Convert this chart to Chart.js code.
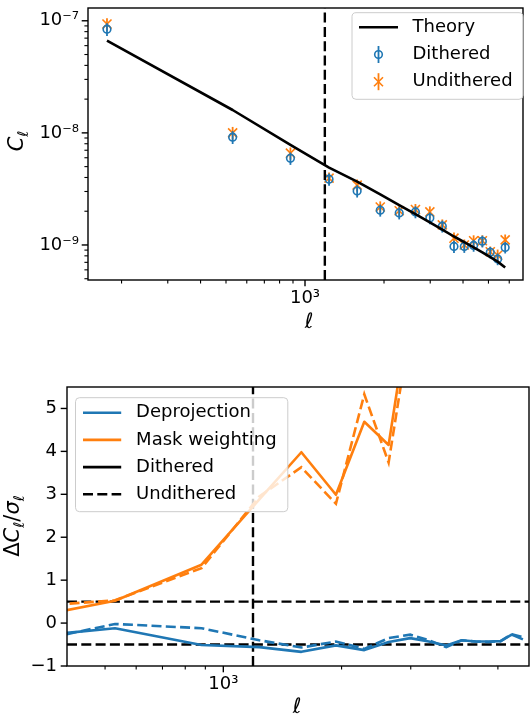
<!DOCTYPE html>
<html>
<head>
<meta charset="utf-8">
<script src="https://cdn.jsdelivr.net/npm/chart.js@4/dist/chart.umd.min.js"></script>
<style>
  html, body { margin: 0; padding: 0; background: #fff; }
  #wrap { position: relative; width: 531px; height: 720px; }
  canvas { position: absolute; left: 0; }
  #clChart { top: 0; }
  #diffChart { top: 340px; }
</style>
</head>
<body>
<div id="wrap">
  <canvas id="clChart" width="531" height="340"></canvas>
  <canvas id="diffChart" width="531" height="380"></canvas>
</div>
<script>
// multipole bin centres
const ells = [176, 530, 880, 1235, 1580, 1935, 2285, 2635, 2990, 3335, 3695, 4045, 4390, 4740, 5080, 5420, 5790];

// power spectra
const clTheory     = [6.64e-8, 1.60e-8, 7.8e-9, 4.9e-9, 3.68e-9, 2.83e-9, 2.27e-9, 1.88e-9, 1.59e-9, 1.37e-9, 1.19e-9, 1.06e-9, 9.5e-10, 8.6e-10, 7.8e-10, 7.1e-10, 6.3e-10];
const clDithered   = [8.41e-8, 9.16e-9, 5.93e-9, 3.86e-9, 3.03e-9, 2.04e-9, 1.93e-9, 1.97e-9, 1.74e-9, 1.47e-9, 9.7e-10, 9.7e-10, 9.9e-10, 1.08e-9, 8.6e-10, 7.5e-10, 9.5e-10];
const errDithered  = [1.1e-8, 1.2e-9, 7.5e-10, 4.8e-10, 3.8e-10, 2.5e-10, 2.4e-10, 2.4e-10, 2.1e-10, 1.8e-10, 1.2e-10, 1.2e-10, 1.2e-10, 1.3e-10, 1.0e-10, 9e-11, 1.1e-10];
const clUndithered = [9.35e-8, 1.0e-8, 6.59e-9, 3.95e-9, 3.42e-9, 2.18e-9, 2.02e-9, 2.07e-9, 1.97e-9, 1.51e-9, 1.15e-9, 1.0e-9, 1.09e-9, 1.09e-9, 8.7e-10, 8.1e-10, 1.11e-9];
const errUndithered = [1.2e-8, 1.3e-9, 8.2e-10, 4.9e-10, 4.2e-10, 2.7e-10, 2.5e-10, 2.5e-10, 2.4e-10, 1.8e-10, 1.4e-10, 1.2e-10, 1.3e-10, 1.3e-10, 1.0e-10, 1.0e-10, 1.3e-10];

// residuals, in units of sigma
const deprojDithered   = [-0.54, -0.12, -0.51, -0.56, -0.67, -0.52, -0.63, -0.44, -0.35, -0.43, -0.52, -0.40, -0.43, -0.43, -0.42, -0.27, -0.38];
const deprojUndithered = [-0.95, -0.02, -0.12, -0.40, -0.57, -0.43, -0.60, -0.35, -0.27, -0.40, -0.56, -0.40, -0.43, -0.44, -0.42, -0.26, -0.33];
const maskDithered     = [-0.33, 0.52, 1.36, 2.88, 3.98, 2.99, 4.69, 4.15, 7.4, 8.9, 11.2, 10.4, 12.8, 14.1, 13.0, 15.6, 14.7];
const maskUndithered   = [0.21, 0.53, 1.28, 2.95, 3.63, 2.78, 5.33, 3.74, 6.9, 8.6, 11.8, 10.1, 13.4, 14.6, 12.7, 16.0, 15.2];

const ellCut = 1190;
const bandLevels = [0.5, -0.5];

// axis ranges and ticks
const clXRange = [149, 6770];
const clYRange = [4.87e-10, 1.30e-7];
const clXTicks = [200, 300, 400, 500, 600, 700, 800, 900, 1000, 2000, 3000, 4000, 5000, 6000];
const clYTicks = [5e-10, 6e-10, 7e-10, 8e-10, 9e-10,
                  1e-9, 2e-9, 3e-9, 4e-9, 5e-9, 6e-9, 7e-9, 8e-9, 9e-9,
                  1e-8, 2e-8, 3e-8, 4e-8, 5e-8, 6e-8, 7e-8, 8e-8, 9e-8, 1e-7];
const diffXRange = [400, 6000];
const diffYRange = [-1, 5.5];
const diffXTicks = [500, 600, 700, 800, 900, 1000, 2000, 3000, 4000, 5000];
const diffYTicks = [-1, 0, 1, 2, 3, 4, 5];

const FONT = "'DejaVu Sans', sans-serif";
const BLUE = '#1f77b4';
const ORANGE = '#ff7f0e';
const DASH = [10, 4.3];
const LW = 2.6;

const pts = (xs, ys) => xs.map((x, i) => ({ x: x, y: ys[i] }));

function isDecade(v) {
  const p = Math.log10(v);
  return Math.abs(p - Math.round(p)) < 1e-9;
}

// 10^n with unicode superscripts
function powLabel(v) {
  const sup = { '-': '⁻', '0': '⁰', '1': '¹', '2': '²', '3': '³', '4': '⁴', '5': '⁵', '6': '⁶', '7': '⁷', '8': '⁸', '9': '⁹' };
  return '10' + String(Math.round(Math.log10(v))).split('').map(c => sup[c]).join('');
}

function tickFont() { return { family: FONT, size: 18 }; }

// vertical error bars, drawn just under each series' markers
const errorBars = {
  id: 'errorBars',
  beforeDatasetDraw(chart, args) {
    const ds = chart.data.datasets[args.index];
    if (!ds.errors) return;
    const { ctx, chartArea: a } = chart;
    const xs = chart.scales.x, ys = chart.scales.y;
    ctx.save();
    ctx.beginPath();
    ctx.rect(a.left, a.top, a.width, a.height);
    ctx.clip();
    ctx.strokeStyle = ds.pointBorderColor;
    ctx.lineWidth = 1.8;
    ds.data.forEach((p, i) => {
      const px = xs.getPixelForValue(p.x);
      ctx.beginPath();
      ctx.moveTo(px, ys.getPixelForValue(p.y - ds.errors[i]));
      ctx.lineTo(px, ys.getPixelForValue(p.y + ds.errors[i]));
      ctx.stroke();
    });
    ctx.restore();
  }
};

// box frame plus outward ticks (short ones for log minor ticks)
const frameTicks = {
  id: 'frameTicks',
  afterDatasetsDraw(chart) {
    const { ctx, chartArea: a } = chart;
    ctx.save();
    ctx.strokeStyle = '#000';
    ctx.lineWidth = 1.4;
    ctx.strokeRect(a.left, a.top, a.width, a.height);
    ['x', 'y'].forEach(id => {
      const s = chart.scales[id];
      s.ticks.forEach(t => {
        const major = s.type !== 'logarithmic' || isDecade(t.value);
        const len = major ? 6.3 : 3.6;
        const p = s.getPixelForValue(t.value);
        ctx.lineWidth = major ? 1.4 : 1.1;
        ctx.beginPath();
        if (id === 'x') { ctx.moveTo(p, a.bottom); ctx.lineTo(p, a.bottom + len); }
        else { ctx.moveTo(a.left, p); ctx.lineTo(a.left - len, p); }
        ctx.stroke();
      });
    });
    ctx.restore();
  }
};

// text with italic parts and subscripts, centred on cx, baseline at by
function drawMath(ctx, parts, size, cx, by, rotate) {
  const fontFor = p => (p.it ? 'italic ' : '') + (p.sub ? size * 0.7 : size) + 'px ' + FONT;
  ctx.save();
  ctx.fillStyle = '#000';
  ctx.textBaseline = 'alphabetic';
  ctx.textAlign = 'left';
  if (rotate) { ctx.translate(by, cx); ctx.rotate(-Math.PI / 2); }
  else ctx.translate(cx, by);
  let total = 0;
  parts.forEach(p => { ctx.font = fontFor(p); p.w = ctx.measureText(p.t).width; total += p.w; });
  let x = -total / 2;
  parts.forEach(p => {
    ctx.font = fontFor(p);
    ctx.fillText(p.t, x, p.sub ? size * 0.25 : 0);
    x += p.w;
  });
  ctx.restore();
}

function axisTitles(xTitle, yTitle) {
  return {
    id: 'axisTitles',
    afterDraw(chart) {
      const ctx = chart.ctx;
      drawMath(ctx, xTitle.parts, 21, xTitle.cx, xTitle.by, false);
      drawMath(ctx, yTitle.parts, 21, yTitle.cy, yTitle.bx, true);
    }
  };
}

function drawHandle(ctx, it, x0, x1, y) {
  const xm = (x0 + x1) / 2;
  ctx.save();
  ctx.strokeStyle = it.color;
  if (it.kind === 'line') {
    ctx.lineWidth = LW;
    ctx.setLineDash(it.dash || []);
    ctx.beginPath(); ctx.moveTo(x0, y); ctx.lineTo(x1, y); ctx.stroke();
  } else {
    ctx.lineWidth = 1.8;
    ctx.beginPath(); ctx.moveTo(xm, y - 8.5); ctx.lineTo(xm, y + 8.5); ctx.stroke();
    ctx.lineWidth = 1.6;
    ctx.beginPath();
    if (it.kind === 'circle') {
      ctx.arc(xm, y, 3.8, 0, Math.PI * 2);
    } else {
      ctx.moveTo(xm - 4.5, y - 4.5); ctx.lineTo(xm + 4.5, y + 4.5);
      ctx.moveTo(xm - 4.5, y + 4.5); ctx.lineTo(xm + 4.5, y - 4.5);
    }
    ctx.stroke();
  }
  ctx.restore();
}

function legendBox(cfg) {
  return {
    id: 'legendBox',
    afterDraw(chart) {
      const ctx = chart.ctx;
      const b = cfg.box;
      ctx.save();
      ctx.beginPath();
      ctx.roundRect(b[0], b[1], b[2] - b[0], b[3] - b[1], 4);
      ctx.fillStyle = 'rgba(255,255,255,0.8)';
      ctx.fill();
      ctx.strokeStyle = '#cccccc';
      ctx.lineWidth = 1;
      ctx.stroke();
      cfg.items.forEach((it, i) => {
        const y = cfg.rowY + i * cfg.rowGap;
        drawHandle(ctx, it, cfg.handle[0], cfg.handle[1], y);
        ctx.font = '18px ' + FONT;
        ctx.fillStyle = '#000';
        ctx.textBaseline = 'middle';
        ctx.fillText(it.label, cfg.textX, y);
      });
      ctx.restore();
    }
  };
}

function fixedSize(dim, size) {
  return s => {
    s[dim] = size;
    s.paddingTop = s.paddingBottom = s.paddingLeft = s.paddingRight = 0;
  };
}

// --- top panel: power spectra ---
new Chart(document.getElementById('clChart'), {
  type: 'scatter',
  data: {
    datasets: [
      { label: 'Theory', data: pts(ells, clTheory), showLine: true, borderColor: '#000', borderWidth: LW,
        borderJoinStyle: 'round', pointRadius: 0, clip: 0 },
      { label: 'cut', data: [{ x: ellCut, y: clYRange[0] }, { x: ellCut, y: clYRange[1] }], showLine: true,
        borderColor: '#000', borderWidth: 2.4, borderDash: DASH, pointRadius: 0, clip: 0 },
      { label: 'Dithered', data: pts(ells, clDithered), errors: errDithered, showLine: false,
        pointStyle: 'circle', pointRadius: 3.8, pointBorderWidth: 1.6, pointBorderColor: BLUE,
        pointBackgroundColor: 'rgba(0,0,0,0)', clip: 0 },
      { label: 'Undithered', data: pts(ells, clUndithered), errors: errUndithered, showLine: false,
        pointStyle: 'crossRot', pointRadius: 6.4, pointBorderWidth: 1.6, pointBorderColor: ORANGE,
        pointBackgroundColor: ORANGE, clip: 0 }
    ]
  },
  options: {
    responsive: false,
    animation: false,
    devicePixelRatio: 1,
    layout: { padding: { top: 3, right: 1, left: 0, bottom: 0 } },
    plugins: { legend: { display: false }, tooltip: { enabled: false } },
    scales: {
      x: {
        type: 'logarithmic', min: clXRange[0], max: clXRange[1],
        grid: { display: false, drawTicks: false }, border: { display: false },
        ticks: { font: tickFont(), color: '#000', padding: 8, autoSkip: false, maxRotation: 0,
                 callback: v => (isDecade(v) ? powLabel(v) : '') },
        afterBuildTicks: s => { s.ticks = clXTicks.map(v => ({ value: v })); },
        afterFit: fixedSize('height', 60)
      },
      y: {
        type: 'logarithmic', min: clYRange[0], max: clYRange[1],
        grid: { display: false, drawTicks: false }, border: { display: false },
        ticks: { font: tickFont(), color: '#000', padding: 9, autoSkip: false,
                 callback: v => (isDecade(v) ? powLabel(v) : '') },
        afterBuildTicks: s => { s.ticks = clYTicks.map(v => ({ value: v })); },
        afterFit: fixedSize('width', 88)
      }
    }
  },
  plugins: [
    errorBars, frameTicks,
    axisTitles(
      { parts: [{ t: 'ℓ', it: true }], cx: 309, by: 328 },
      { parts: [{ t: 'C', it: true }, { t: 'ℓ', it: true, sub: true }], cy: 141, bx: 23 }
    ),
    legendBox({
      box: [352, 12.7, 523, 99.3], handle: [359, 398], textX: 412.5, rowY: 27.3, rowGap: 27.2,
      items: [
        { label: 'Theory', kind: 'line', color: '#000' },
        { label: 'Dithered', kind: 'circle', color: BLUE },
        { label: 'Undithered', kind: 'cross', color: ORANGE }
      ]
    })
  ]
});

// --- bottom panel: residuals over sigma ---
const refLine = (data) => ({ data: data, showLine: true, borderColor: '#000', borderWidth: 2.4,
                             borderDash: DASH, pointRadius: 0, clip: 0 });
new Chart(document.getElementById('diffChart'), {
  type: 'scatter',
  data: {
    datasets: [
      { label: 'Deprojection', data: pts(ells, deprojDithered), showLine: true, borderColor: BLUE,
        borderWidth: LW, borderJoinStyle: 'round', pointRadius: 0, clip: 0 },
      { label: 'Mask weighting', data: pts(ells, maskDithered), showLine: true, borderColor: ORANGE,
        borderWidth: LW, borderJoinStyle: 'round', pointRadius: 0, clip: 0 },
      { label: 'Deprojection (undithered)', data: pts(ells, deprojUndithered), showLine: true, borderColor: BLUE,
        borderWidth: LW, borderDash: DASH, pointRadius: 0, clip: 0 },
      { label: 'Mask weighting (undithered)', data: pts(ells, maskUndithered), showLine: true, borderColor: ORANGE,
        borderWidth: LW, borderDash: DASH, pointRadius: 0, clip: 0 },
      refLine(bandLevels.length ? [{ x: diffXRange[0], y: bandLevels[0] }, { x: diffXRange[1], y: bandLevels[0] }] : []),
      refLine([{ x: diffXRange[0], y: bandLevels[1] }, { x: diffXRange[1], y: bandLevels[1] }]),
      refLine([{ x: ellCut, y: diffYRange[0] }, { x: ellCut, y: diffYRange[1] }])
    ]
  },
  options: {
    responsive: false,
    animation: false,
    devicePixelRatio: 1,
    layout: { padding: { top: 47, right: 2, left: 0, bottom: 0 } },
    plugins: { legend: { display: false }, tooltip: { enabled: false } },
    scales: {
      x: {
        type: 'logarithmic', min: diffXRange[0], max: diffXRange[1],
        grid: { display: false, drawTicks: false }, border: { display: false },
        ticks: { font: tickFont(), color: '#000', padding: 8, autoSkip: false, maxRotation: 0,
                 callback: v => (isDecade(v) ? powLabel(v) : '') },
        afterBuildTicks: s => { s.ticks = diffXTicks.map(v => ({ value: v })); },
        afterFit: fixedSize('height', 54)
      },
      y: {
        type: 'linear', min: diffYRange[0], max: diffYRange[1],
        grid: { display: false, drawTicks: false }, border: { display: false },
        ticks: { font: tickFont(), color: '#000', padding: 10, autoSkip: false,
                 callback: v => String(v).replace('-', '−') },
        afterBuildTicks: s => { s.ticks = diffYTicks.map(v => ({ value: v })); },
        afterFit: fixedSize('width', 67)
      }
    }
  },
  plugins: [
    frameTicks,
    axisTitles(
      { parts: [{ t: 'ℓ', it: true }], cx: 297, by: 373 },
      { parts: [{ t: 'Δ' }, { t: 'C', it: true }, { t: 'ℓ', it: true, sub: true }, { t: '/' },
                { t: 'σ', it: true }, { t: 'ℓ', it: true, sub: true }], cy: 186, bx: 19 }
    ),
    legendBox({
      box: [75.5, 57.7, 287.8, 171.7], handle: [83, 121.2], textX: 136.1, rowY: 72.7, rowGap: 27.2,
      items: [
        { label: 'Deprojection', kind: 'line', color: BLUE },
        { label: 'Mask weighting', kind: 'line', color: ORANGE },
        { label: 'Dithered', kind: 'line', color: '#000' },
        { label: 'Undithered', kind: 'line', color: '#000', dash: DASH }
      ]
    })
  ]
});
</script>
</body>
</html>
